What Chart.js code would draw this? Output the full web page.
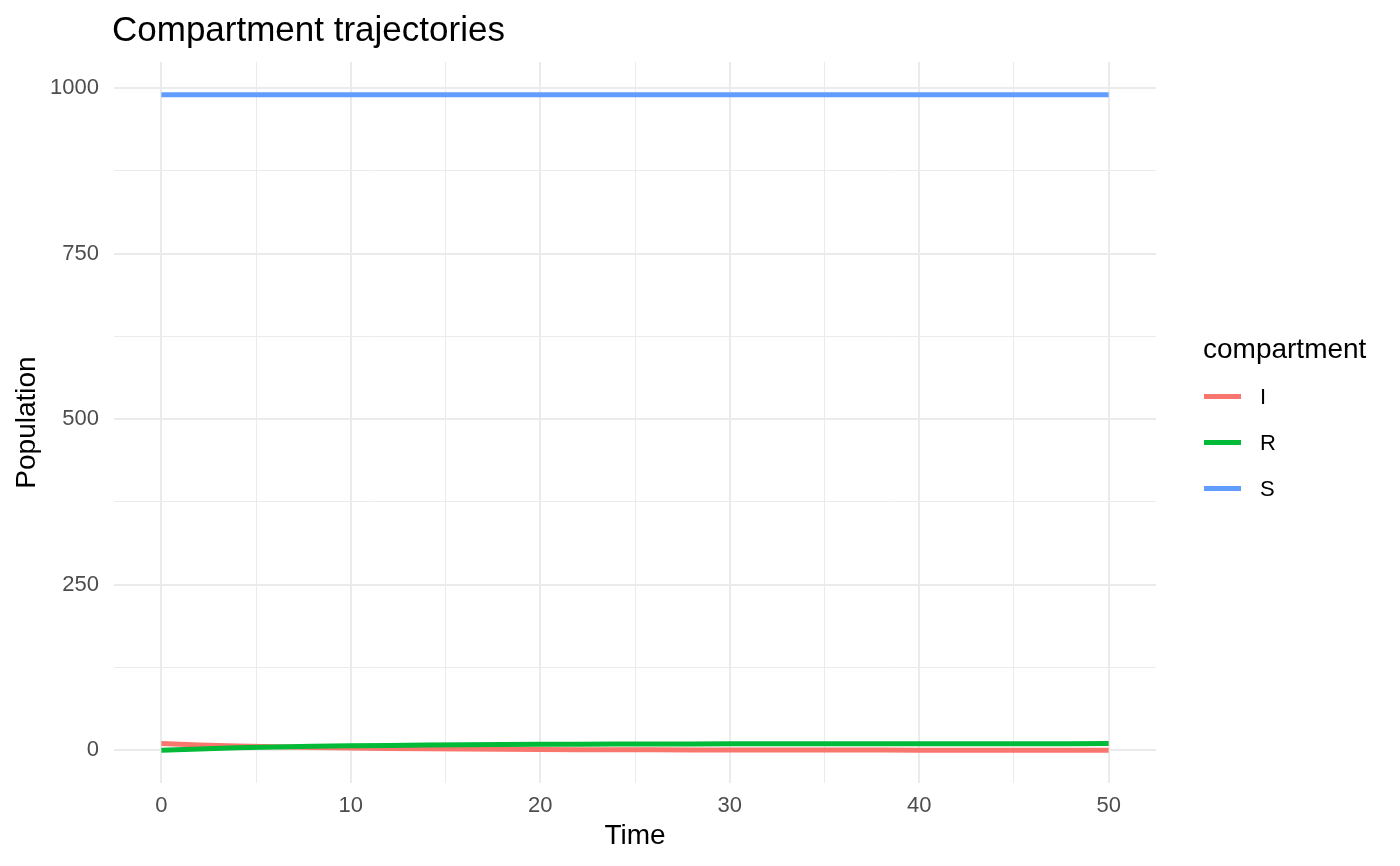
<!DOCTYPE html>
<html>
<head>
<meta charset="utf-8">
<script src="https://cdn.jsdelivr.net/npm/chart.js@4/dist/chart.umd.min.js"></script>
<style>
  body { margin: 0; background: #fff; font-family: "Liberation Sans", Arial, sans-serif; }
  .wrap { position: relative; width: 1400px; height: 866px; }
  canvas { position: absolute; left: 0; top: 0; }
  .title { position: absolute; left: 112px; top: 9px; font-size: 35px; line-height: 40px; color: #000; }
  .legend { position: absolute; left: 1203px; top: 331px; color: #000; }
  .legend .head { font-size: 28px; line-height: 36px; }
  .legend .item { position: absolute; left: 0; height: 24px; width: 180px; }
  .legend .key { position: absolute; left: 1px; top: 9px; width: 37px; height: 5px; }
  .legend .lab { position: absolute; left: 57px; top: 0; font-size: 22px; line-height: 24px; }
</style>
</head>
<body>
<div class="wrap">
  <canvas id="chart" width="1400" height="866"></canvas>
  <div class="title">Compartment trajectories</div>
  <div class="legend" id="legend"><div class="head">compartment</div></div>
</div>
<script>
const times = [0, 2, 4, 6, 8, 10, 12, 14, 16, 18, 20, 22, 24, 26, 28, 30, 32, 34, 36, 38, 40, 42, 44, 46, 48, 50];
const seriesS = [990, 990, 990, 990, 990, 990, 990, 990, 990, 990, 990, 990, 990, 990, 990, 990, 990, 990, 990, 990, 990, 990, 990, 990, 990, 990];
const seriesI = [10, 8.0, 6.4, 5.2, 4.1, 3.3, 2.7, 2.1, 1.7, 1.4, 1.1, 0.9, 0.7, 0.6, 0.5, 0.4, 0.3, 0.3, 0.2, 0.2, 0.1, 0.1, 0.1, 0.1, 0.1, 0.0];
const seriesR = [0, 2.0, 3.6, 4.8, 5.9, 6.7, 7.3, 7.9, 8.3, 8.6, 8.9, 9.1, 9.3, 9.4, 9.5, 9.6, 9.7, 9.7, 9.8, 9.8, 9.9, 9.9, 9.9, 9.9, 9.9, 10.0];
const compartments = ['I', 'R', 'S'];
const colors = ['#F8766D', '#00BA38', '#619CFF'];
const xTicks = [0, 5, 10, 15, 20, 25, 30, 35, 40, 45, 50];
const yTicks = [0, 125, 250, 375, 500, 625, 750, 875, 1000];

const values = { I: seriesI, R: seriesR, S: seriesS };

// legend in html, same order as ggplot
const legend = document.getElementById('legend');
compartments.forEach((c, i) => {
  const item = document.createElement('div');
  item.className = 'item';
  item.style.top = (54 + i * 46) + 'px';
  item.innerHTML = '<div class="key" style="background:' + colors[i] + '"></div><div class="lab">' + c + '</div>';
  legend.appendChild(item);
});

const tickFont = { family: '"Liberation Sans", Arial, sans-serif', size: 22 };
const titleFont = { family: '"Liberation Sans", Arial, sans-serif', size: 28 };

new Chart(document.getElementById('chart').getContext('2d'), {
  type: 'line',
  data: {
    datasets: compartments.map((c, i) => ({
      label: c,
      data: times.map((t, j) => ({ x: t, y: values[c][j] })),
      borderColor: colors[i],
      backgroundColor: colors[i],
      borderWidth: 5,
      borderCapStyle: 'butt',
      pointRadius: 0,
      tension: 0,
      fill: false,
      order: 3 - i
    }))
  },
  options: {
    responsive: false,
    animation: false,
    layout: { padding: { top: 62, right: 244, left: 0, bottom: 0 } },
    plugins: {
      legend: { display: false },
      title: { display: false },
      tooltip: { enabled: false }
    },
    scales: {
      x: {
        type: 'linear',
        min: -2.5,
        max: 52.5,
        afterBuildTicks: (scale) => { scale.ticks = xTicks.map(v => ({ value: v })); },
        afterFit: (scale) => { scale.height = 83; },
        border: { display: false },
        grid: {
          color: '#ebebeb',
          drawTicks: false,
          lineWidth: (ctx) => (ctx.tick && ctx.tick.value % 10 === 0 ? 2 : 1)
        },
        ticks: {
          color: '#4d4d4d',
          font: tickFont,
          padding: 10,
          maxRotation: 0,
          autoSkip: false,
          callback: (v) => (v % 10 === 0 ? String(v) : '')
        },
        title: { display: true, text: 'Time', color: '#000', font: titleFont, padding: { top: 0, bottom: 13 } }
      },
      y: {
        type: 'linear',
        min: -49.5,
        max: 1039.5,
        afterBuildTicks: (scale) => { scale.ticks = yTicks.map(v => ({ value: v })); },
        afterFit: (scale) => { scale.width = 114; },
        border: { display: false },
        grid: {
          color: '#ebebeb',
          drawTicks: false,
          lineWidth: (ctx) => (ctx.tick && ctx.tick.value % 250 === 0 ? 2 : 1)
        },
        ticks: {
          color: '#4d4d4d',
          font: tickFont,
          padding: 15,
          autoSkip: false,
          callback: (v) => (v % 250 === 0 ? String(v) : '')
        },
        title: { display: true, text: 'Population', color: '#000', font: titleFont, padding: { top: 10, bottom: 0 } }
      }
    }
  }
});
</script>
</body>
</html>
